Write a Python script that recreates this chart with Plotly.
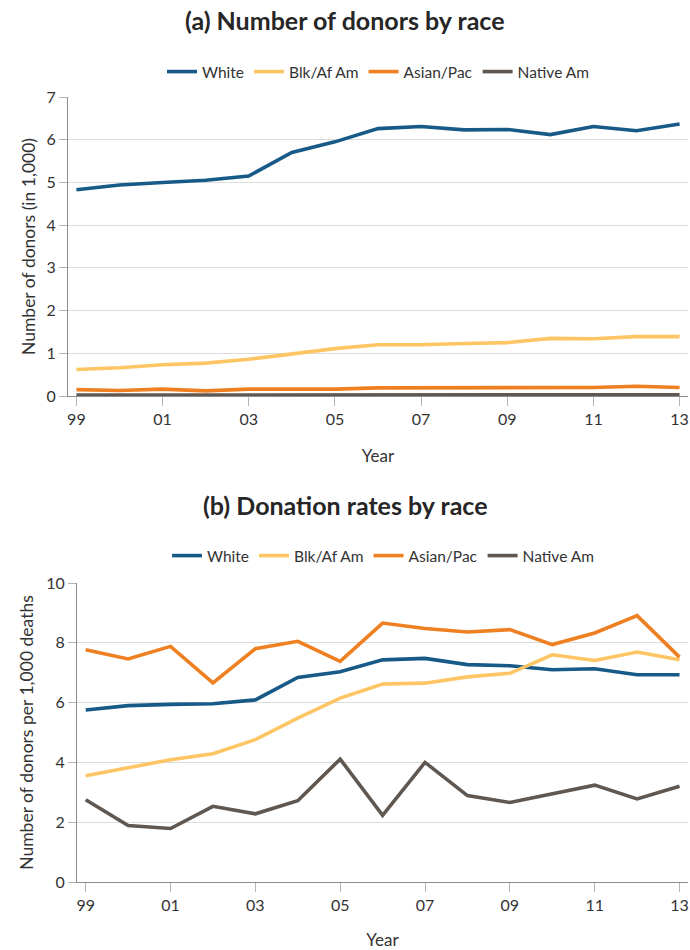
import plotly.graph_objects as go

years = list(range(1999, 2014))
tick_years = [1999, 2001, 2003, 2005, 2007, 2009, 2011, 2013]
tick_labels = ["99", "01", "03", "05", "07", "09", "11", "13"]
series_names = ["White", "Blk/Af Am", "Asian/Pac", "Native Am"]
colors = ["#175a87", "#fec565", "#ee8021", "#5f5750"]

# (a) Number of donors (in 1,000)
donors_white = [4.83, 4.94, 5.00, 5.05, 5.15, 5.70, 5.95, 6.26, 6.31, 6.23, 6.24, 6.12, 6.31, 6.21, 6.37]
donors_blk = [0.62, 0.66, 0.73, 0.77, 0.86, 0.98, 1.11, 1.20, 1.20, 1.23, 1.25, 1.35, 1.34, 1.39, 1.39]
donors_asian = [0.15, 0.13, 0.16, 0.12, 0.16, 0.16, 0.16, 0.19, 0.19, 0.19, 0.20, 0.19, 0.20, 0.23, 0.20]
donors_native = [0.02, 0.02, 0.02, 0.02, 0.02, 0.03, 0.03, 0.02, 0.03, 0.03, 0.03, 0.03, 0.03, 0.03, 0.03]

# (b) Donors per 1,000 deaths
rate_white = [5.75, 5.90, 5.94, 5.96, 6.09, 6.84, 7.03, 7.43, 7.48, 7.27, 7.23, 7.10, 7.13, 6.93, 6.93]
rate_blk = [3.55, 3.81, 4.09, 4.29, 4.76, 5.48, 6.15, 6.62, 6.65, 6.86, 6.98, 7.60, 7.41, 7.69, 7.43]
rate_asian = [7.77, 7.46, 7.88, 6.66, 7.80, 8.05, 7.38, 8.66, 8.48, 8.36, 8.44, 7.94, 8.33, 8.91, 7.52]
rate_native = [2.75, 1.89, 1.79, 2.53, 2.28, 2.72, 4.11, 2.23, 4.00, 2.89, 2.66, 2.95, 3.24, 2.78, 3.20]

W, H = 690, 950
FONT = "Lato"
TXT = "#333333"

fig = go.Figure()
top_series = [donors_white, donors_blk, donors_asian, donors_native]
bot_series = [rate_white, rate_blk, rate_asian, rate_native]
for name, col, vals in zip(series_names, colors, top_series):
    fig.add_trace(go.Scatter(x=years, y=vals, mode="lines", name=name,
                             line=dict(color=col, width=3.6),
                             xaxis="x", yaxis="y", legend="legend"))
for name, col, vals in zip(series_names, colors, bot_series):
    fig.add_trace(go.Scatter(x=years, y=vals, mode="lines", name=name,
                             line=dict(color=col, width=3.6),
                             xaxis="x2", yaxis="y2", legend="legend2"))

def px_x(p):
    return p / W

def px_y(p):
    return 1 - p / H

axis_common = dict(showline=True, linecolor="#8c8c8c", linewidth=1,
                   ticks="outside", tickcolor="#b5b5b5", ticklen=9,
                   tickfont=dict(family=FONT, size=16, color=TXT),
                   zeroline=False, automargin=False)

fig.update_layout(
    width=W, height=H,
    margin=dict(l=0, r=0, t=0, b=0, autoexpand=False),
    paper_bgcolor="white", plot_bgcolor="white",
    font=dict(family=FONT, color=TXT),
    xaxis=dict(domain=[px_x(68), px_x(688)], anchor="y",
               range=[1999 - 0.195, 2013 + 0.195],
               tickvals=tick_years, ticktext=tick_labels, showgrid=False,
               title=dict(text="Year", font=dict(family=FONT, size=17, color=TXT), standoff=22),
               **axis_common),
    yaxis=dict(domain=[px_y(396), px_y(97)], anchor="x",
               range=[0, 7], dtick=1, showgrid=True, gridcolor="#dcdcdc",
               title=dict(text="Number of donors (in 1,000)", font=dict(family=FONT, size=17.5, color=TXT), standoff=6),
               **{**axis_common, "ticklen": 8}),
    xaxis2=dict(domain=[px_x(77), px_x(688)], anchor="y2",
                range=[1999 - 0.205, 2013 + 0.2],
                tickvals=tick_years, ticktext=tick_labels, showgrid=False,
                title=dict(text="Year", font=dict(family=FONT, size=17, color=TXT), standoff=20),
                **axis_common),
    yaxis2=dict(domain=[px_y(882), px_y(583)], anchor="x2",
                range=[0, 10], dtick=2, showgrid=True, gridcolor="#dcdcdc",
                title=dict(text="Number of donors per 1,000 deaths", font=dict(family=FONT, size=17.5, color=TXT), standoff=8),
                **{**axis_common, "ticklen": 8}),
    legend=dict(orientation="h", x=378 / W, xanchor="center", y=px_y(72), yanchor="middle",
                font=dict(family=FONT, size=15.5, color=TXT),
                tracegroupgap=0, bgcolor="rgba(0,0,0,0)"),
    legend2=dict(orientation="h", x=383 / W, xanchor="center", y=px_y(556), yanchor="middle",
                 font=dict(family=FONT, size=15.5, color=TXT),
                 tracegroupgap=0, bgcolor="rgba(0,0,0,0)"),
    annotations=[
        dict(text="<b>(a) Number of donors by race</b>", x=0.5, y=px_y(20), xref="paper", yref="paper",
             xanchor="center", yanchor="middle", showarrow=False,
             font=dict(family=FONT, size=25, color="#262626")),
        dict(text="<b>(b) Donation rates by race</b>", x=0.5, y=px_y(505), xref="paper", yref="paper",
             xanchor="center", yanchor="middle", showarrow=False,
             font=dict(family=FONT, size=25, color="#262626")),
    ],
)

fig.write_html("out.html")
